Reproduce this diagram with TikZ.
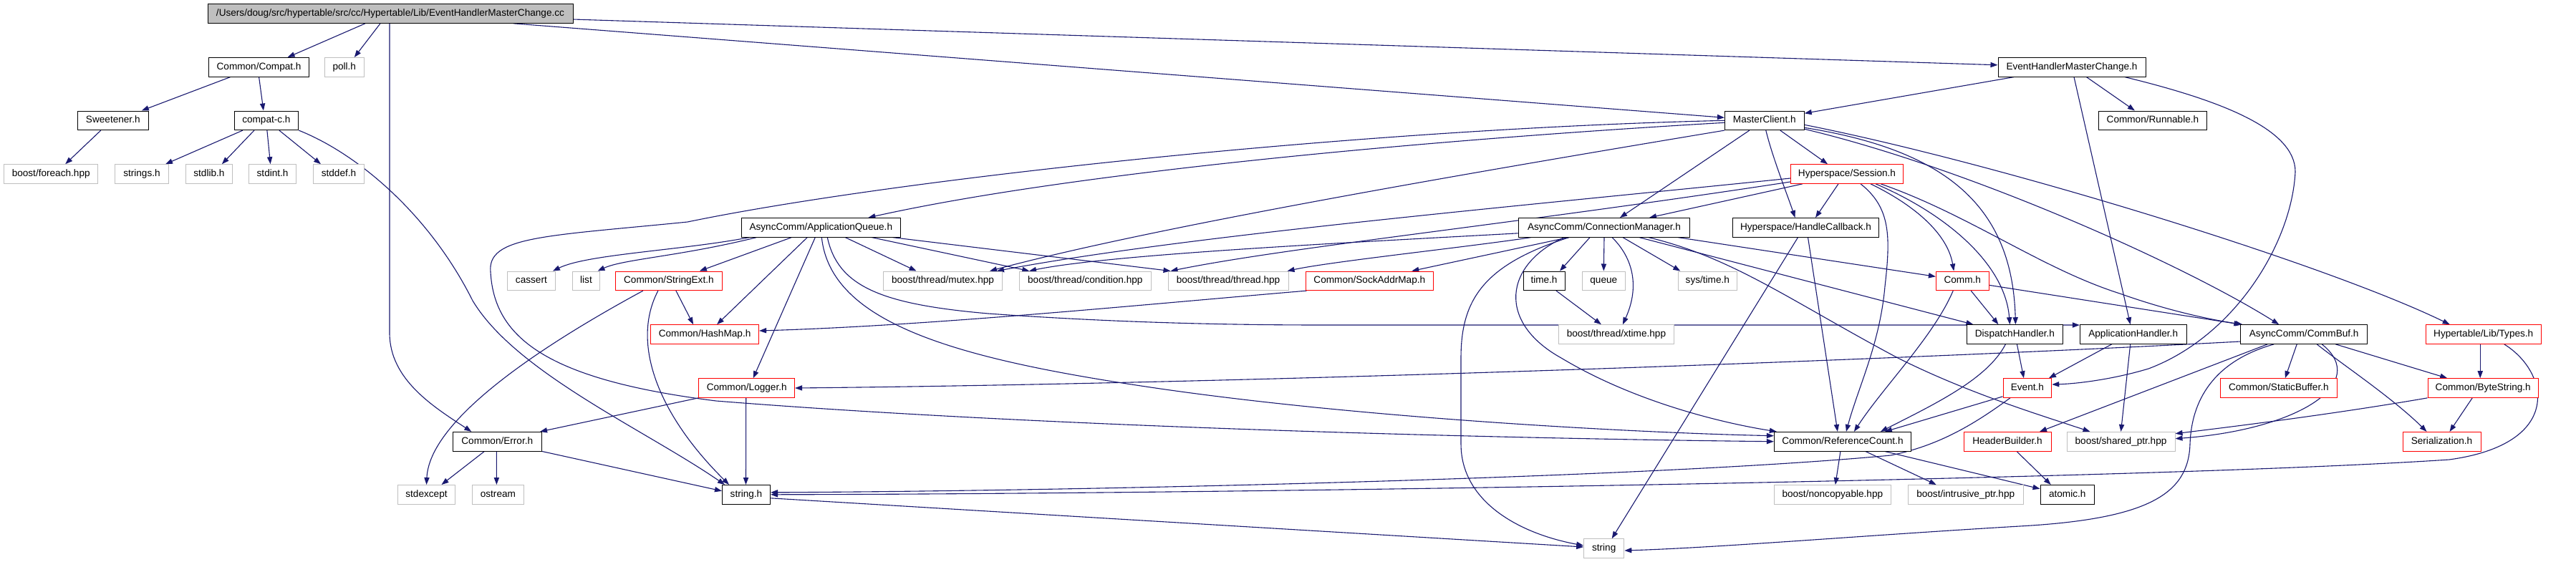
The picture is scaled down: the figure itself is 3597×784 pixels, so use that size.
\documentclass[tikz,border=0pt]{standalone}
\usepackage{fontspec}
\setmainfont{Liberation Sans}
\usetikzlibrary{arrows.meta,calc}
\definecolor{edgec}{HTML}{191970}
\definecolor{redc}{HTML}{FF0000}
\definecolor{grayc}{HTML}{BFBFBF}
\pgfdeclarelayer{back}
\pgfdeclarelayer{edges}
\pgfsetlayers{back,edges,main}
\tikzset{
  nd/.style={draw=black, fill=white, line width=0.5pt, inner sep=0pt, minimum height=13.3pt,
    text height=4.9pt, text depth=1.4pt, font=\fontsize{6.8}{8}\selectfont},
  gnd/.style={nd, draw=grayc},
  rnd/.style={nd, draw=redc},
  edg/.style={draw=edgec, line width=0.55pt, -{Triangle[length=5pt,width=3.6pt]}},
}
\begin{document}
\begin{tikzpicture}[x=0.5pt, y=-0.5pt]
\begin{pgfonlayer}{back}
\fill[white] (0,0) rectangle (3597,784);
\end{pgfonlayer}
\useasboundingbox (0,0) rectangle (3597,784);

% ---------------- nodes ----------------
\node[nd, fill=grayc, minimum width=255pt] (src) at (545,19) {/Users/doug/src/hypertable/src/cc/Hypertable/Lib/EventHandlerMasterChange.cc};
\node[nd, minimum width=70pt] (Compat) at (361.6,93.8) {Common/Compat.h};
\node[gnd, minimum width=27.75pt] (poll) at (480.8,93.8) {poll.h};
\node[nd, minimum width=49.25pt] (Sweetener) at (157.8,168.3) {Sweetener.h};
\node[nd, minimum width=44.85pt] (compatc) at (371.9,168.3) {compat-c.h};
\node[gnd, minimum width=65.5pt] (foreach) at (71.2,243) {boost/foreach.hpp};
\node[gnd, minimum width=37.3pt] (strings) at (198,243) {strings.h};
\node[gnd, minimum width=32.5pt] (stdlib) at (291.9,243) {stdlib.h};
\node[gnd, minimum width=32.75pt] (stdint) at (380.6,243) {stdint.h};
\node[gnd, minimum width=35.5pt] (stddef) at (473,243) {stddef.h};
\node[nd, minimum width=55.4pt] (MC) at (2463.8,168.3) {MasterClient.h};
\node[nd, minimum width=103pt] (EHMCh) at (2893,93.8) {EventHandlerMasterChange.h};
\node[nd, minimum width=75.85pt] (Runnable) at (3005.9,168.3) {Common/Runnable.h};
\node[nd, minimum width=110.75pt] (AQ) at (1146.3,317.8) {AsyncComm/ApplicationQueue.h};
\node[rnd, minimum width=78.65pt] (Session) at (2579,243) {Hyperspace/Session.h};
\node[nd, minimum width=119.65pt] (CM) at (2240,317.8) {AsyncComm/ConnectionManager.h};
\node[nd, minimum width=102.2pt] (HC) at (2521.5,317.8) {Hyperspace/HandleCallback.h};
\node[gnd, minimum width=33.5pt] (cassert) at (741.9,392.3) {cassert};
\node[gnd, minimum width=18.9pt] (list) at (818.5,392.3) {list};
\node[rnd, minimum width=74.1pt] (StringExt) at (933.9,392.3) {Common/StringExt.h};
\node[gnd, minimum width=83pt] (mutex) at (1316.5,392.3) {boost/thread/mutex.hpp};
\node[gnd, minimum width=91.75pt] (condition) at (1515.3,392.3) {boost/thread/condition.hpp};
\node[gnd, minimum width=84pt] (thread) at (1715,392.3) {boost/thread/thread.hpp};
\node[rnd, minimum width=89.25pt] (SockAddrMap) at (1912.3,392.3) {Common/SockAddrMap.h};
\node[nd, minimum width=29pt] (timeh) at (2156,392.3) {time.h};
\node[gnd, minimum width=30.25pt] (queue) at (2239.3,392.3) {queue};
\node[gnd, minimum width=40.7pt] (systime) at (2384.3,392.3) {sys/time.h};
\node[rnd, minimum width=36.8pt] (Comm) at (2740.2,392.3) {Comm.h};
\node[rnd, minimum width=75.5pt] (HashMap) at (984.1,467) {Common/HashMap.h};
\node[gnd, minimum width=80.4pt] (xtime) at (2256.9,467) {boost/thread/xtime.hpp};
\node[nd, minimum width=67.4pt] (DH) at (2813.4,467) {DispatchHandler.h};
\node[nd, minimum width=74.35pt] (AH) at (2978.7,467) {ApplicationHandler.h};
\node[nd, minimum width=88.35pt] (CommBuf) at (3217.2,467) {AsyncComm/CommBuf.h};
\node[rnd, minimum width=80.7pt] (Types) at (3467.7,467) {Hypertable/Lib/Types.h};
\node[rnd, minimum width=66.85pt] (Logger) at (1042.7,542) {Common/Logger.h};
\node[rnd, minimum width=33.85pt] (Event) at (2830.9,542) {Event.h};
\node[rnd, minimum width=81.2pt] (StaticBuffer) at (3181.8,542) {Common/StaticBuffer.h};
\node[rnd, minimum width=77.15pt] (ByteString) at (3467.2,542) {Common/ByteString.h};
\node[nd, minimum width=62.25pt] (Error) at (694.3,616.7) {Common/Error.h};
\node[nd, minimum width=95.55pt] (RC) at (2572.9,616.7) {Common/ReferenceCount.h};
\node[rnd, minimum width=61pt] (HB) at (2803,616.7) {HeaderBuilder.h};
\node[gnd, minimum width=75.5pt] (sharedptr) at (2961.5,616.7) {boost/shared\_ptr.hpp};
\node[rnd, minimum width=54.5pt] (Serialization) at (3409.5,616.7) {Serialization.h};
\node[gnd, minimum width=39.9pt] (stdexcept) at (595.5,690.8) {stdexcept};
\node[gnd, minimum width=35.9pt] (ostream) at (695.4,690.8) {ostream};
\node[nd, minimum width=33.55pt] (stringh) at (1042,690.8) {string.h};
\node[gnd, minimum width=81.5pt] (noncopyable) at (2558.8,690.8) {boost/noncopyable.hpp};
\node[gnd, minimum width=80.3pt] (intrusive) at (2744.7,690.8) {boost/intrusive\_ptr.hpp};
\node[nd, minimum width=37.7pt] (atomic) at (2886.7,690.8) {atomic.h};
\node[gnd, minimum width=28.1pt] (string) at (2239.7,766) {string};

% ---------------- edges ----------------
\begin{pgfonlayer}{edges}
% source file
\draw[edg] ($(src.south)+(-35,0)$) -- ($(Compat.north)+(40,0)$);
\draw[edg] ($(src.south)+(-14,0)$) -- ($(poll.north)+(14,0)$);
\draw[edg] ($(src.south)+(-1,0)$) -- (544,465) .. controls (544,530) and (605,568) .. ($(Error.north)+(-36,0)$);
\draw[edg] ($(src.south)+(172,0)$) -- ($(MC.west)+(0,-4)$);
\draw[edg] ($(src.east)+(0,8)$) -- ($(EHMCh.west)+(0,-3)$);
% Compat
\draw[edg] ($(Compat.south)+(-40,0)$) -- ($(Sweetener.north)+(40,0)$);
\draw[edg] (Compat.south) -- ($(compatc.north)+(-4,0)$);
\draw[edg] ($(Sweetener.south)+(-17,0)$) -- ($(foreach.north)+(20,0)$);
\draw[edg] ($(compatc.south)+(-33,0)$) -- ($(strings.north)+(33,0)$);
\draw[edg] ($(compatc.south)+(-17,0)$) -- ($(stdlib.north)+(18,0)$);
\draw[edg] ($(compatc.south)+(1,0)$) -- ($(stdint.north)+(-3,0)$);
\draw[edg] ($(compatc.south)+(18,0)$) -- ($(stddef.north)+(-25,0)$);
\draw[edg] (compatc.south east) .. controls (500,215) and (600,300) .. (660,420) .. controls (720,520) and (900,600) .. ($(stringh.north)+(-30,0)$);
% Error
\draw[edg] ($(Error.south)+(-18,0)$) -- ($(stdexcept.north)+(21,0)$);
\draw[edg] ($(Error.south)+(-1,0)$) -- ($(ostream.north)+(-2,0)$);
\draw[edg] (Error.south east) -- ($(stringh.west)+(0,-5)$);
% StringExt
\draw[edg] ($(StringExt.south)+(-36,0)$) .. controls (780,470) and (600,580) .. (stdexcept.north);
\draw[edg] ($(StringExt.south)+(10,0)$) -- ($(HashMap.north)+(-16,0)$);
\draw[edg] ($(StringExt.south)+(-15,0)$) .. controls (880,480) and (920,580) .. ($(stringh.north)+(-24,0)$);
% ApplicationQueue
\draw[edg] ($(AQ.south)+(-100,0)$) .. controls (950,350) and (820,355) .. ($(cassert.north)+(30,0)$);
\draw[edg] ($(AQ.south)+(-90,0)$) .. controls (950,358) and (870,362) .. ($(list.north)+(16,0)$);
\draw[edg] ($(AQ.south)+(-41,0)$) -- ($(StringExt.north)+(43,0)$);
\draw[edg] ($(AQ.south)+(-19,0)$) -- ($(HashMap.north)+(17,0)$);
\draw[edg] ($(AQ.south)+(-8,0)$) -- ($(Logger.north)+(9,0)$);
\draw[edg] ($(AQ.south)+(34,0)$) -- ($(mutex.north)+(-37,0)$);
\draw[edg] ($(AQ.south)+(71,0)$) -- ($(condition.north)+(-78,0)$);
\draw[edg] ($(AQ.south)+(100,0)$) -- ($(thread.north west)+(4,0)$);
\draw[edg] ($(AQ.south)+(1,0)$) .. controls (1160,450) and (1330,500) .. (1600,540) .. controls (1900,585) and (2300,605) .. ($(RC.west)+(0,-8)$);
\draw[edg] ($(AQ.south)+(9,0)$) .. controls (1170,400) and (1230,425) .. (1380,438) .. controls (1550,450) and (1700,454) .. (1850,454) -- ($(AH.west)+(0,-13)$);
% Logger
\draw[edg] (Logger.south west) -- ($(Error.north east)+(-3,0)$);
\draw[edg] ($(Logger.south)+(-1,0)$) -- ($(stringh.north)+(-0.5,0)$);
% SockAddrMap
\draw[edg] ($(SockAddrMap.south west)+(2,0)$) .. controls (1600,425) and (1300,455) .. ($(HashMap.east)+(0,-5)$);
% CommBuf
\draw[edg] ($(CommBuf.west)+(0,10)$) .. controls (2700,500) and (1800,535) .. (Logger.east);
\draw[edg] ($(CommBuf.south)+(-51,0)$) -- ($(HB.north)+(45,0)$);
\draw[edg] ($(CommBuf.south)+(-10,0)$) -- ($(StaticBuffer.north)+(9,0)$);
\draw[edg] ($(CommBuf.south)+(44,0)$) -- ($(ByteString.north)+(-50,0)$);
\draw[edg] ($(CommBuf.south)+(18,0)$) .. controls (3265,505) and (3340,555) .. ($(Serialization.north)+(-21,0)$);
\draw[edg] ($(CommBuf.south)+(25,0)$) .. controls (3310,535) and (3210,600) .. ($(sharedptr.east)+(0,-4)$);
\draw[edg] ($(CommBuf.south)+(-42,0)$) .. controls (3090,505) and (3060,560) .. (3058,620) .. controls (3056,690) and (3000,725) .. (2820,735) .. controls (2600,748) and (2400,765) .. ($(string.east)+(0,3)$);
% ByteString / Types
\draw[edg] ($(ByteString.south)+(-15,0)$) -- ($(Serialization.north)+(11,0)$);
\draw[edg] (ByteString.south west) .. controls (3250,580) and (3100,598) .. ($(sharedptr.east)+(0,-11)$);
\draw[edg] ($(Types.south)+(-4.5,0)$) -- ($(ByteString.north)+(-4,0)$);
\draw[edg] ($(Types.south)+(29,0)$) .. controls (3560,520) and (3580,620) .. (3420,642) .. controls (3000,670) and (1700,690) .. (stringh.east);
% Event
\draw[edg] ($(Event.south west)+(0,-2)$) -- ($(RC.north)+(59,0)$);
\draw[edg] ($(Event.south)+(-24,0)$) .. controls (2760,590) and (2710,622) .. (2640,636) .. controls (2300,668) and (1500,686) .. ($(stringh.east)+(0,-3)$);
% DispatchHandler / ApplicationHandler
\draw[edg] ($(DH.south)+(3,0)$) -- ($(Event.north)+(-5,0)$);
\draw[edg] ($(DH.south)+(-13,0)$) .. controls (2775,530) and (2700,565) .. ($(RC.north)+(53,0)$);
\draw[edg] ($(AH.south)+(-30,0)$) -- ($(Event.north)+(30,0)$);
\draw[edg] ($(AH.south)+(-4,0)$) -- (sharedptr.north);
% HeaderBuilder / ReferenceCount / string.h
\draw[edg] ($(HB.south)+(13,0)$) -- ($(atomic.north)+(-23,0)$);
\draw[edg] ($(RC.south)+(-3,0)$) -- ($(noncopyable.north)+(4,0)$);
\draw[edg] ($(RC.south)+(32,0)$) -- ($(intrusive.north)+(-41,0)$);
\draw[edg] ($(RC.south)+(59,0)$) -- ($(atomic.west)+(0,-8)$);
\draw[edg] ($(stringh.east)+(0,5)$) -- ($(string.west)+(0,-2)$);
% EventHandlerMasterChange.h
\draw[edg] ($(EHMCh.south)+(-81,0)$) -- ($(MC.east)+(0,-10)$);
\draw[edg] ($(EHMCh.south)+(20.5,0)$) -- ($(Runnable.north)+(-25,0)$);
\draw[edg] ($(EHMCh.south)+(3,0)$) -- ($(AH.north)+(-4,0)$);
\draw[edg] ($(EHMCh.south)+(74,0)$) .. controls (3100,140) and (3205,180) .. (3205,240) .. controls (3200,340) and (3120,470) .. (3000,515) .. controls (2950,530) and (2900,536) .. ($(Event.east)+(0,-5)$);
% MasterClient
\draw[edg] ($(MC.west)+(0,3)$) .. controls (2000,195) and (1500,240) .. ($(AQ.north)+(66,0)$);
\draw[edg] (MC.west) .. controls (1900,180) and (1250,250) .. (960,310) .. controls (760,330) and (680,330) .. (685,380) .. controls (690,470) and (760,530) .. (1000,560) .. controls (1500,600) and (2200,614) .. (RC.west);
\draw[edg] (MC.south west) .. controls (2000,250) and (1600,320) .. ($(mutex.north east)+(-18,0)$);
\draw[edg] ($(MC.south)+(-21,0)$) -- ($(CM.north)+(22,0)$);
\draw[edg] ($(MC.south)+(2,0)$) .. controls (2475,220) and (2495,270) .. ($(HC.north)+(-15,0)$);
\draw[edg] ($(MC.south)+(22,0)$) -- ($(Session.north)+(-27,0)$);
\draw[edg] ($(MC.east)+(0,10)$) .. controls (2720,210) and (2810,290) .. ($(DH.north)+(1,0)$);
\draw[edg] ($(MC.east)+(0,12)$) .. controls (2750,235) and (3050,370) .. ($(CommBuf.north)+(-35,0)$);
\draw[edg] ($(MC.east)+(0,6)$) .. controls (2800,230) and (3250,370) .. ($(Types.north)+(-47,0)$);
% Session
\draw[edg] ($(Session.south)+(-62,0)$) -- ($(CM.north)+(63,0)$);
\draw[edg] ($(Session.south)+(-12,0)$) -- ($(HC.north)+(13.5,0)$);
\draw[edg] ($(Session.south)+(19,0)$) .. controls (2640,290) and (2640,330) .. (2632,400) .. controls (2625,480) and (2595,540) .. ($(RC.north)+(5,0)$);
\draw[edg] ($(Session.south)+(33,0)$) .. controls (2680,290) and (2720,330) .. ($(Comm.north)+(-12,0)$);
\draw[edg] ($(Session.south)+(40,0)$) .. controls (2720,300) and (2800,370) .. ($(DH.north)+(-7,0)$);
\draw[edg] ($(Session.south)+(47,0)$) .. controls (2750,300) and (2850,375) .. (2960,410) .. controls (3030,435) and (3090,447) .. ($(CommBuf.north west)+(3,0)$);
\draw[edg] ($(Session.west)+(0,6)$) .. controls (2100,290) and (1650,330) .. ($(mutex.north east)+(-8,0)$);
\draw[edg] ($(Session.west)+(0,11)$) .. controls (2100,315) and (1800,345) .. ($(thread.north west)+(4,0)$);
% ConnectionManager
\draw[edg] ($(CM.west)+(0,8)$) .. controls (1900,338) and (1550,355) .. ($(condition.north west)+(14,0)$);
\draw[edg] ($(CM.south west)+(18,0)$) .. controls (2050,345) and (1860,365) .. ($(thread.north east)+(-2,0)$);
\draw[edg] ($(CM.south)+(-50,0)$) -- ($(SockAddrMap.north)+(59,0)$);
\draw[edg] ($(CM.south)+(-20,0)$) -- ($(timeh.north)+(22,0)$);
\draw[edg] (CM.south) -- (queue.north);
\draw[edg] ($(CM.south)+(11,0)$) .. controls (2280,360) and (2290,400) .. ($(xtime.north)+(9,0)$);
\draw[edg] ($(CM.south)+(26,0)$) -- ($(systime.north)+(-38,0)$);
\draw[edg] ($(CM.south east)+(-17,0)$) -- ($(Comm.west)+(0,-6)$);
\draw[edg] ($(CM.south)+(49,0)$) -- ($(DH.north)+(-58,0)$);
\draw[edg] ($(CM.south)+(62,0)$) .. controls (2420,360) and (2500,420) .. (2650,500) .. controls (2750,550) and (2850,580) .. ($(sharedptr.north)+(-43,0)$);
\draw[edg] ($(CM.south)+(-56,0)$) .. controls (2100,370) and (2090,450) .. (2180,500) .. controls (2280,560) and (2400,590) .. ($(RC.north west)+(4,0)$);
\draw[edg] ($(CM.south)+(-49,0)$) .. controls (2070,370) and (2040,420) .. (2040,500) -- (2040,620) .. controls (2040,700) and (2120,745) .. ($(string.west)+(0,-4)$);
\draw[edg] ($(timeh.south)+(17,0)$) -- ($(xtime.north)+(-21,0)$);
% HandleCallback
\draw[edg] ($(HC.south)+(-11,0)$) -- ($(string.north)+(11,0)$);
\draw[edg] ($(HC.south)+(3,0)$) -- ($(RC.north)+(-7,0)$);
% Comm
\draw[edg] ($(Comm.south)+(12,0)$) -- ($(DH.north)+(-23,0)$);
\draw[edg] ($(Comm.south)+(-13,0)$) .. controls (2700,470) and (2630,540) .. ($(RC.north)+(16,0)$);
\draw[edg] ($(Comm.east)+(0,6)$) -- ($(CommBuf.north west)+(1,0)$);
\end{pgfonlayer}
\end{tikzpicture}
\end{document}
